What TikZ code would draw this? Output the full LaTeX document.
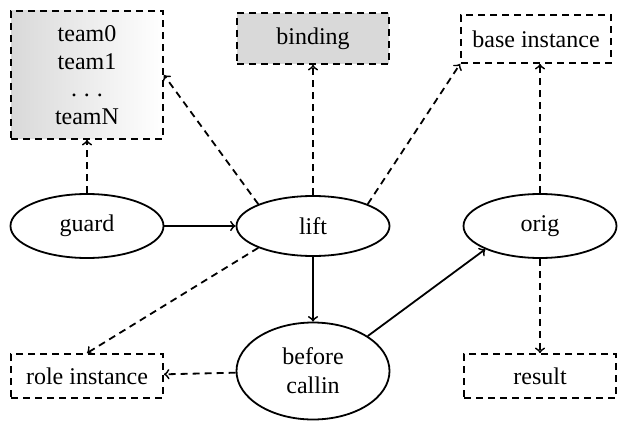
\documentclass[tikz,border=0pt]{standalone}
\usepackage{fontspec}
\setmainfont{Liberation Serif}
\usetikzlibrary{shapes.geometric}
\begin{document}
\begin{tikzpicture}[x=0.5pt,y=-0.5pt,
  font=\fontsize{12}{14.5}\selectfont,
  every node/.style={inner sep=0pt, align=center},
  ell/.style={draw, line width=0.9pt, ellipse, minimum width=76.5pt, minimum height=#1},
  ell/.default=31pt,
  dbox/.style={draw, line width=0.9pt, dash pattern=on 3.5pt off 2.5pt, rectangle, minimum width=76pt},
  dline/.style={->, line width=0.9pt, dash pattern=on 3.5pt off 2.5pt},
  sline/.style={->, line width=0.9pt}]
\useasboundingbox (0,0) rectangle (619,427);
% boxes
\node[dbox, minimum height=64pt, left color=black!15, right color=white,
  font=\fontsize{12}{13.8}\selectfont] (team) at (87,75) {team0\\team1\\.\hspace{3.5pt}.\hspace{3.5pt}.\\teamN};
\node[dbox, minimum height=25.5pt, fill=black!15] (binding) at (313,38.5) {binding};
\node[dbox, minimum width=75pt, minimum height=24pt] (base) at (536,39) {base instance};
\node[dbox, minimum height=22pt] (role) at (87,376) {role instance};
\node[dbox, minimum height=22pt] (result) at (540,376) {result};
% ellipses
\node[ell=32pt] (guard) at (87,226) {guard};
\node[ell=30pt] (lift) at (313,226) {lift};
\node[ell=32pt] (orig) at (540,226) {orig};
\node[ell=48.5pt] (before) at (313,371) {before\\callin};
% connectors
\draw[sline] (guard) -- (lift);
\draw[sline] (lift) -- (before);
\draw[sline] (before.north east) -- (orig.south west);
\draw[dline] (guard) -- (team);
\draw[dline] (lift.north west) -- (team.east);
\draw[dline] (lift) -- (binding);
\draw[dline] (lift.north east) -- (base.south west);
\draw[dline] (lift.south west) -- (role.north);
\draw[dline] (before) -- (role);
\draw[dline] (orig) -- (base.south -| orig);
\draw[dline] (orig) -- (result);
\end{tikzpicture}
\end{document}
